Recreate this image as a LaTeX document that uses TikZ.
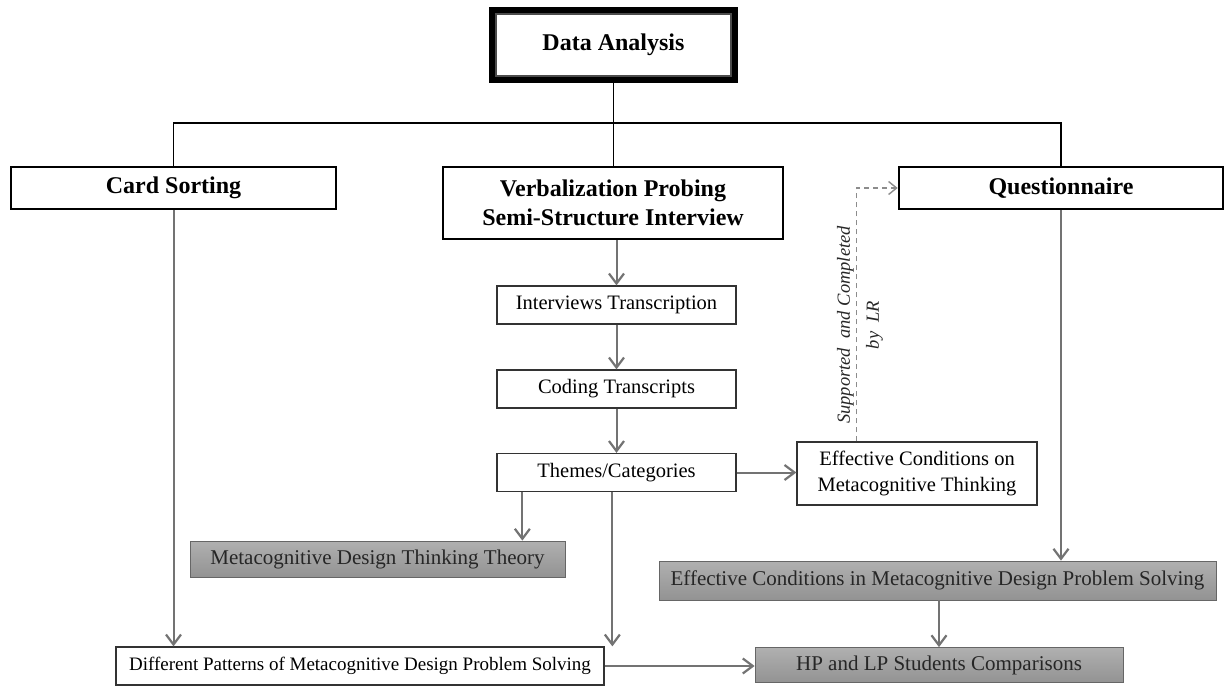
\documentclass[tikz,border=0pt]{standalone}
\usepackage{fontspec}
\setmainfont{Liberation Serif}
\usetikzlibrary{arrows.meta,shadows,backgrounds,calc}

\begin{document}
\begin{tikzpicture}[x=1pt,y=-1pt,
  head/.style={draw=black, line width=2.6pt, fill=white, inner sep=0pt,
    font=\fontsize{24}{29}\selectfont\bfseries, align=center},
  stage/.style={draw=black!80, line width=1.3pt, fill=white, inner sep=0pt,
    font=\fontsize{20.5}{26}\selectfont, align=center},
  result/.style={draw=black!60, line width=0.8pt, top color=gray!62, bottom color=gray!85,
    inner sep=0pt, font=\fontsize{21}{25}\selectfont, text=black!85},
  bus/.style={draw=black, line width=1.8pt},
  flow/.style={draw=black!55, line width=2pt,
    -{Straight Barb[length=10pt,width=15pt,line width=2.2pt]}},
  link/.style={draw=black!45, line width=1.2pt, dash pattern=on 5pt off 4pt,
    -{Straight Barb[length=8pt,width=13pt,line width=1.4pt]}}
]
\useasboundingbox (0,0) rectangle (1225,689);
\fill[white] (0,0) rectangle (1225,689);

% top box with heavy double frame
\node[draw=black, line width=6pt, fill=white, inner sep=0pt,
      minimum width=243pt, minimum height=70pt,
      font=\fontsize{24}{29}\selectfont\bfseries] (da) at (613.5,45) {Data Analysis};
\draw[black!70, line width=1.2pt] ($(da.south west)+(7,-7)$) rectangle ($(da.north east)+(-7,7)$);

% three methods
\node[head, minimum width=325pt, minimum height=42pt] (cs) at (173.5,188) {Card Sorting};
\node[head, minimum width=340pt, minimum height=72pt] (vp) at (613,203)
  {Verbalization Probing\\Semi-Structure Interview};
\node[head, minimum width=324pt, minimum height=42pt] (q) at (1061,188) {Questionnaire};

% interview processing steps
\node[stage, minimum width=239pt, minimum height=38pt] (it) at (616.5,305) {Interviews Transcription};
\node[stage, minimum width=239pt, minimum height=38pt] (ct) at (616.5,389) {Coding Transcripts};
\node[stage, minimum width=239pt, minimum height=38pt] (tc) at (616.5,472.5) {Themes/Categories};
\node[stage, minimum width=240pt, minimum height=63pt] (ec) at (917,473.5)
  {Effective Conditions on\\Metacognitive Thinking};
\node[stage, minimum width=488pt, minimum height=38pt, font=\fontsize{19}{24}\selectfont] (dp) at (360,666)
  {Different Patterns of Metacognitive Design Problem Solving};

% outcomes
\node[result, minimum width=375pt, minimum height=36pt] (mdt) at (377.5,559)
  {Metacognitive Design Thinking Theory};
\node[result, minimum width=557pt, minimum height=39pt] (ecm) at (937.5,580.5)
  {Effective Conditions in Metacognitive Design Problem Solving};
\node[result, minimum width=368pt, minimum height=35pt] (hp) at (939,665)
  {HP and LP Students Comparisons};

% soft white halo behind the outcome boxes
\begin{scope}[on background layer]
  \foreach \n in {mdt,ecm,hp}
    \fill[white, drop shadow={opacity=.12, shadow xshift=1pt, shadow yshift=-1.5pt}]
      ($(\n.south west)+(-5,4)$) rectangle ($(\n.north east)+(5,-4)$);
\end{scope}

% branching from the top box
\coordinate (busL) at (173,123);
\draw[bus] (cs.north) -- (cs.north |- busL) -- (q.north |- busL) -- (q.north);
\draw[bus] (da.south) -- (da.south |- vp.north);

% process arrows
\draw[flow] (vp.south -| it.north) -- (it.north);
\draw[flow] (it.south) -- (ct.north);
\draw[flow] (ct.south) -- (tc.north);
\draw[flow] (tc.east) -- (tc.east -| ec.west);
\coordinate (tl) at ($(tc.south west)+(26,0)$);
\coordinate (tm) at ($(tc.south west)+(116,0)$);
\draw[flow] (tl) -- (tl |- mdt.north);
\draw[flow] (tm) -- (tm |- dp.north);
\draw[flow] (cs.south) -- (cs.south |- dp.north);
\draw[flow] (q.south) -- (q.south |- ecm.north);
\draw[flow] (ecm.south -| hp.north) -- (hp.north);
\draw[flow] (dp.east) -- (dp.east -| hp.west);

% dashed support link
\coordinate (lk) at ($(ec.north west)+(60,0)$);
\draw[link] (lk) |- (q.west);
\node[rotate=90, font=\fontsize{18.5}{29}\selectfont\itshape, align=center, text=black!85]
  (lbl) at (860,325) {Supported\ \ and Completed\\by\ \ LR};
\end{tikzpicture}
\end{document}
